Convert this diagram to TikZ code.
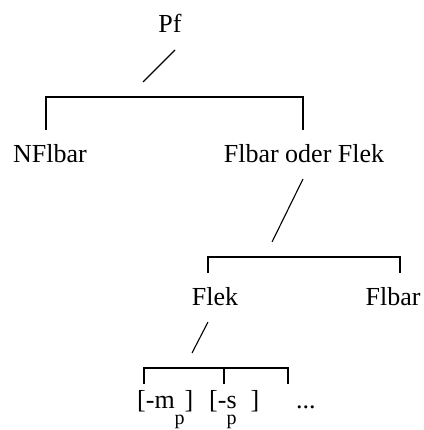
\documentclass[tikz,border=0pt]{standalone}
\usepackage{fontspec}
\setmainfont{Liberation Serif}
\newcommand{\lowp}{\raisebox{-16pt}{\fontsize{20}{20}\selectfont p}}
\begin{document}
\begin{tikzpicture}[x=1pt,y=-1pt,
  lab/.style={inner sep=0pt,font=\fontsize{26}{30}\selectfont},
  ln/.style={line width=1.1pt}]
\useasboundingbox (0,0) rectangle (423,430);
% labels
\node[lab,anchor=base] (pf) at (170,33) {Pf};
\node[lab,anchor=base] (nfl) at (50,163) {NFlbar};
\node[lab,anchor=base] (fof) at (304,163) {Flbar oder Flek};
\node[lab,anchor=base] (flek) at (215,305) {Flek};
\node[lab,anchor=base] (flbar) at (393,305) {Flbar};
\node[lab,anchor=base west] (m) at (137,408) {[-m\lowp]};
\node[lab,anchor=base west] (s) at (209,408) {[-s\llap{\lowp}\hspace{14pt}]};
\node[lab,anchor=base west] (dots) at (296,408) {...};
% slashes
\coordinate (a1) at (143,82); \coordinate (a2) at (175,50);
\coordinate (b1) at (272,242); \coordinate (b2) at (303,179);
\coordinate (c1) at (192,353); \coordinate (c2) at (208,322);
\draw[ln] (a1) -- (a2);
\draw[ln] (b1) -- (b2);
\draw[ln] (c1) -- (c2);
% brackets
\coordinate (k1l) at (46,130); \coordinate (k1r) at (303,130);
\draw[ln] (k1l) -- ++(0,-33) -| (k1r);
\coordinate (k2l) at (208,273); \coordinate (k2r) at (400,273);
\draw[ln] (k2l) -- ++(0,-16) -| (k2r);
\coordinate (k3l) at (144,384); \coordinate (k3m) at (224,384); \coordinate (k3r) at (288,384);
\draw[ln] (k3l) -- ++(0,-16) -| (k3r);
\draw[ln] (k3m) -- ++(0,-16);
\end{tikzpicture}
\end{document}
